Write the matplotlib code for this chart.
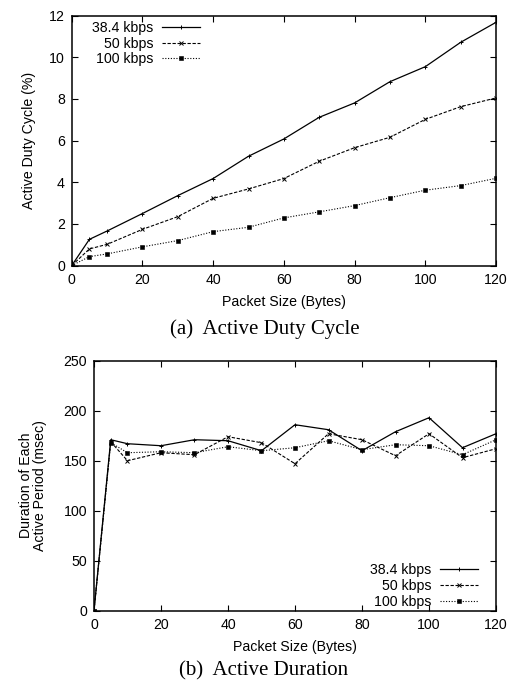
import matplotlib
matplotlib.use("Agg")
import matplotlib.pyplot as plt

plt.rcParams['font.family'] = ['Liberation Sans', 'DejaVu Sans']

packet_sizes = [0, 5, 10, 20, 30, 40, 50, 60, 70, 80, 90, 100, 110, 120]
series_labels = ["38.4 kbps", "50 kbps", "100 kbps"]

duty_384 = [0, 1.26, 1.66, 2.5, 3.36, 4.18, 5.25, 6.08, 7.12, 7.81, 8.83, 9.55, 10.72, 11.68]
duty_50 = [0, 0.8, 1.02, 1.74, 2.35, 3.23, 3.68, 4.18, 5.01, 5.66, 6.16, 7.02, 7.63, 8.05]
duty_100 = [0, 0.43, 0.56, 0.9, 1.2, 1.63, 1.84, 2.29, 2.58, 2.88, 3.26, 3.62, 3.84, 4.19]

dur_384 = [0, 171, 167, 165, 171, 170, 160, 186, 181, 160, 179, 193, 163, 177]
dur_50 = [0, 169, 150, 158, 156, 174, 168, 147, 177, 171, 155, 177, 153, 162]
dur_100 = [0, 168, 158, 159, 158, 164, 160, 163, 170, 161, 166, 165, 156, 171]

styles = [dict(ls='-', marker='+', ms=3.2, mew=0.7, lw=0.9),
          dict(ls=(0, (3, 1.5)), marker='x', ms=2.4, mew=0.7, lw=0.8),
          dict(ls=(0, (1, 1.5)), marker='s', ms=2.5, mew=0.4, lw=0.8)]

FS = 10.2

fig = plt.figure(figsize=(5.17, 6.81), dpi=100)
ax1 = fig.add_axes([0.1387, 0.610, 0.9594 - 0.1387, 0.977 - 0.610])
ax2 = fig.add_axes([0.1818, 0.1032, 0.9594 - 0.1818, 0.4703 - 0.1032])

def style_ax(ax):
    for s in ax.spines.values():
        s.set_linewidth(1.1)
    ax.tick_params(direction='in', top=True, right=True, length=4, width=0.8,
                   labelsize=FS, pad=5)

for ys, lab, st in zip([duty_384, duty_50, duty_100], series_labels, styles):
    ax1.plot(packet_sizes, ys, color='black', label=lab, **st)
ax1.set_xlim(0, 120)
ax1.set_ylim(0, 12)
ax1.set_xticks(range(0, 121, 20))
ax1.set_yticks(range(0, 13, 2))
ax1.set_xlabel("Packet Size (Bytes)", fontsize=FS, labelpad=6)
ax1.set_ylabel("Active Duty Cycle (%)", fontsize=FS, labelpad=9)
style_ax(ax1)
leg1 = ax1.legend(loc='upper left', frameon=False, markerfirst=False, fontsize=FS,
                  handlelength=2.7, handletextpad=0.6, labelspacing=0.12,
                  borderpad=0, borderaxespad=0, bbox_to_anchor=(0.048, 0.979))

for ys, lab, st in zip([dur_384, dur_50, dur_100], series_labels, styles):
    ax2.plot(packet_sizes, ys, color='black', label=lab, **st)
ax2.set_xlim(0, 120)
ax2.set_ylim(0, 250)
ax2.set_xticks(range(0, 121, 20))
ax2.set_yticks(range(0, 251, 50))
ax2.set_xlabel("Packet Size (Bytes)", fontsize=FS, labelpad=6)
ax2.set_ylabel("Duration of Each\nActive Period (msec)", fontsize=FS, labelpad=12,
               linespacing=0.95)
style_ax(ax2)
leg2 = ax2.legend(loc='lower right', frameon=False, markerfirst=False, fontsize=FS,
                  handlelength=2.7, handletextpad=0.6, labelspacing=0.12,
                  borderpad=0, borderaxespad=0, bbox_to_anchor=(0.955, 0.008))

for leg in (leg1, leg2):
    for t in leg.get_texts():
        t.set_ha('right')

fig.text(0.512, 1 - 329 / 681, "(a)  Active Duty Cycle", ha='center', va='center',
         fontsize=15, family=['Liberation Serif', 'DejaVu Serif'])
fig.text(0.509, 1 - 671 / 681, "(b)  Active Duration", ha='center', va='center',
         fontsize=15, family=['Liberation Serif', 'DejaVu Serif'])

fig.savefig("out.png", dpi=100)
